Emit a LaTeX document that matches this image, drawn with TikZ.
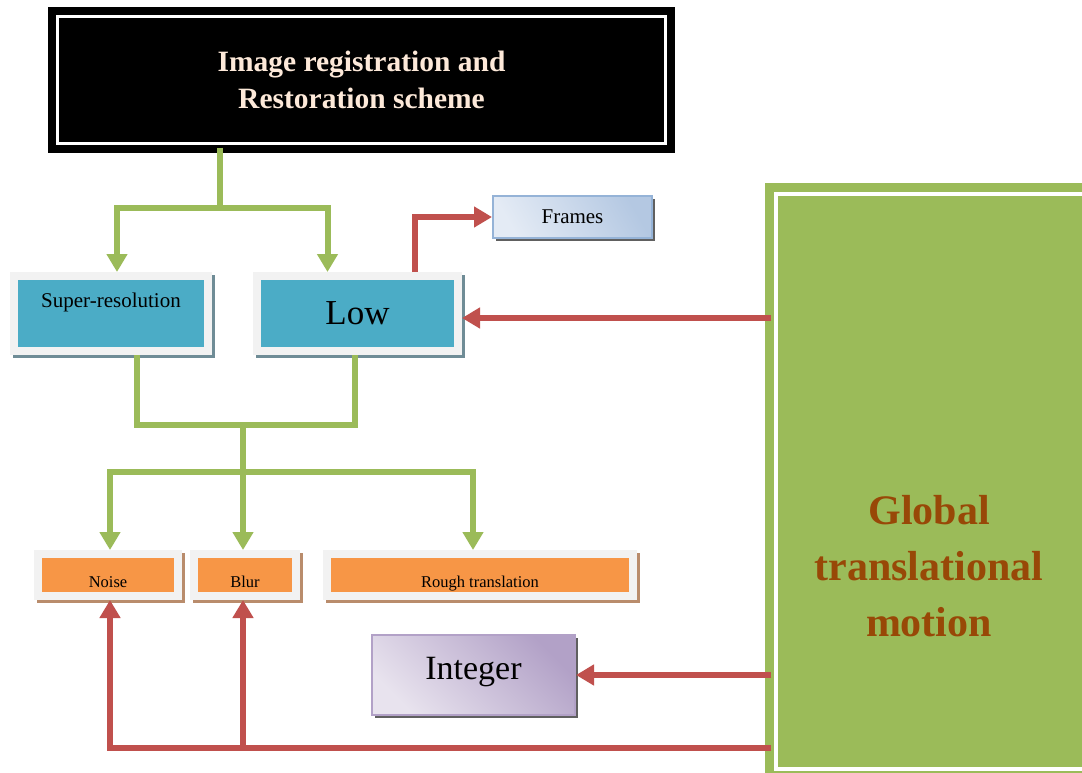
\documentclass[tikz,border=0pt]{standalone}
\usepackage{fontspec}
\setmainfont{Liberation Serif}
\usetikzlibrary{arrows.meta,positioning,calc}
\usepackage{xcolor}

\definecolor{lnGreen}{HTML}{9BBB59}
\definecolor{lnRed}{HTML}{C0504D}
\definecolor{boxBlue}{HTML}{4BACC6}
\definecolor{boxOrange}{HTML}{F79646}
\definecolor{frameGray}{HTML}{F2F2F2}
\definecolor{titleText}{HTML}{FDE9D9}
\definecolor{motionText}{HTML}{984807}
\definecolor{shTeal}{HTML}{6F8C96}
\definecolor{shBrown}{HTML}{B98C6C}
\definecolor{shGray}{HTML}{606060}
\definecolor{frLight}{HTML}{E4EBF5}
\definecolor{frDark}{HTML}{B4C8E2}
\definecolor{frBorder}{HTML}{95B3D7}
\definecolor{inLight}{HTML}{E8E3EE}
\definecolor{inDark}{HTML}{B2A1C7}

\tikzset{
  greenln/.style={draw=lnGreen, line width=6pt},
  greenarr/.style={greenln, -{Triangle[width=20pt,length=18pt]}},
  redln/.style={draw=lnRed, line width=6pt},
  redarr/.style={redln, -{Triangle[width=20pt,length=18pt]}},
  shadowed/.style={preaction={draw=#1, fill=#1, line width=8pt,
      transform canvas={shift={(3pt,-3pt)}}}},
  framed/.style={draw=frameGray, line width=8pt, inner sep=0pt},
  bluebox/.style={framed, fill=boxBlue, shadowed=shTeal},
  orangebox/.style={framed, fill=boxOrange, shadowed=shBrown,
      minimum height=42pt, text height=28pt, text depth=4pt,
      font=\fontsize{16.5}{18}\selectfont},
  gradbox/.style={draw=#1, line width=2pt, inner sep=0pt,
      preaction={fill=shGray, transform canvas={shift={(3pt,-3pt)}}}}
}

\begin{document}
\begin{tikzpicture}[x=1pt, y=-1pt]
  \clip (0,0) rectangle (1082,772);
  \fill[white] (0,0) rectangle (1082,772);

  % title block
  \node[draw=black, fill=black, line width=8pt, double=white, double distance=3pt,
        minimum width=608pt, minimum height=127pt, align=center, text=titleText,
        font=\bfseries\fontsize{29.5}{37}\selectfont] (title) at (361.5,80)
        {Image registration and\\Restoration scheme};

  % first row
  \node[bluebox, minimum width=194pt, minimum height=75pt, text height=13pt, text depth=26pt,
        font=\fontsize{21}{23}\selectfont] (super) at (111,313.5) {Super-resolution};
  \node[bluebox, minimum width=201pt, minimum height=75pt,
        font=\fontsize{35}{38}\selectfont] (low) at (357.5,313.5) {Low};
  \node[gradbox=frBorder, left color=frDark, right color=frLight, shading angle=-60,
        minimum width=159pt, minimum height=42pt,
        font=\fontsize{21}{23}\selectfont] (frames) at (572.5,217) {Frames};

  % second row
  \node[orangebox, minimum width=140.5pt] (noise) at (108,575) {Noise};
  \node[orangebox, minimum width=102pt] (blur) at (245,575) {Blur};
  \node[orangebox, minimum width=306pt] (rough) at (480,575) {Rough translation};

  \node[gradbox=inDark, left color=inDark, right color=inLight, shading angle=-45,
        minimum width=203pt, minimum height=80pt, text height=22pt, text depth=14pt,
        font=\fontsize{34}{38}\selectfont] (integer) at (473.5,675) {Integer};

  % global motion block
  \node[draw=lnGreen, fill=lnGreen, line width=8.5pt, double=white, double distance=4pt,
        minimum width=344.5pt, minimum height=575.5pt] (glob) at (947.75,481.25) {};
  \node[align=center, text=motionText,
        font=\bfseries\fontsize{42}{56}\selectfont] (globtxt) at (929,566)
        {Global\\translational\\motion};

  % green tree
  \coordinate (split1) at (220,208);
  \coordinate (merge) at (243,425);
  \coordinate (split2) at (243,472);
  \draw[greenln] (title.south -| split1) -- (split1);
  \draw[greenarr] (split1) -| ([xshift=6pt]super.north);
  \draw[greenarr] (split1) -| ([xshift=-30pt]low.north);
  \draw[greenln] ([xshift=26pt]super.south) |- (merge) -| ([xshift=-3pt]low.south);
  \draw[greenln] (merge) -- (split2);
  \draw[greenarr] (split2) -| ([xshift=2pt]noise.north);
  \draw[greenarr] (split2) -- (blur.north -| split2);
  \draw[greenarr] (split2) -| ([xshift=-7pt]rough.north);

  % red links
  \draw[redarr] ([xshift=57pt]low.north) |- (frames.west);
  \draw[redarr] ([yshift=-4.5pt]glob.west |- low.east) -- ([yshift=-4.5pt]low.east);
  \draw[redarr] (glob.west |- integer.east) -- (integer.east);
  \coordinate (bottom) at (243,748);
  \draw[redln] (glob.west |- bottom) -- (bottom);
  \draw[redarr] (bottom) -| ([xshift=2pt]noise.south);
  \draw[redarr] (bottom) -- (blur.south -| bottom);
\end{tikzpicture}
\end{document}
